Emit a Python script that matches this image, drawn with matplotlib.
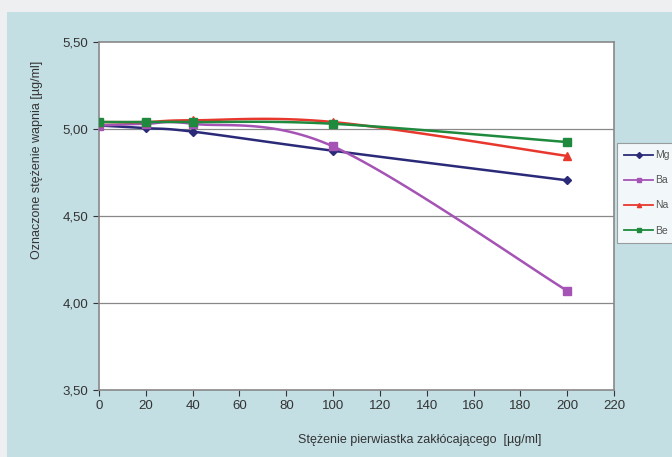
import numpy as np
import matplotlib.pyplot as plt
from matplotlib.patches import Rectangle

plt.rcParams['font.family'] = ['Liberation Sans', 'DejaVu Sans']

# data
conc = [0, 20, 40, 100, 200]
mg = [5.02, 5.005, 4.985, 4.875, 4.705]
ba = [5.02, 5.03, 5.03, 4.90, 4.07]
na = [5.04, 5.04, 5.05, 5.04, 4.845]
be = [5.04, 5.04, 5.04, 5.03, 4.925]
names = ['Mg', 'Ba', 'Na', 'Be']
colors = ['#2b2a78', '#a553b5', '#e8382e', '#1f8a3d']
markers = ['D', 's', '^', 's']
msizes = [4.5, 6, 6, 6]
yticks = [3.5, 4.0, 4.5, 5.0, 5.5]
xticks = list(range(0, 221, 20))


def smooth(x, y, n=30):
    # excel style smoothed line (catmull-rom bezier)
    x = np.asarray(x, float)
    y = np.asarray(y, float)
    px = np.concatenate([[x[0]], x, [x[-1]]])
    py = np.concatenate([[y[0]], y, [y[-1]]])
    xs, ys = [], []
    t = np.linspace(0, 1, n)
    for i in range(1, len(px) - 2):
        p0 = np.array([px[i], py[i]])
        p3 = np.array([px[i + 1], py[i + 1]])
        p1 = p0 + (np.array([px[i + 1], py[i + 1]]) - np.array([px[i - 1], py[i - 1]])) / 6
        p2 = p3 - (np.array([px[i + 2], py[i + 2]]) - np.array([px[i], py[i]])) / 6
        b = (((1 - t) ** 3)[:, None] * p0 + (3 * (1 - t) ** 2 * t)[:, None] * p1
             + (3 * (1 - t) * t ** 2)[:, None] * p2 + (t ** 3)[:, None] * p3)
        xs.extend(b[:, 0])
        ys.extend(b[:, 1])
    return xs, ys


fig = plt.figure(figsize=(6.72, 4.57), dpi=100, facecolor='#eeeff0')
fig.patches.append(Rectangle((7 / 672, 0), 1, 1 - 12 / 457, transform=fig.transFigure,
                             facecolor='#c3dfe4', edgecolor='none', zorder=-10))

ax = fig.add_axes([99 / 672, 1 - 390 / 457, 515 / 672, 348 / 457])
ax.set_facecolor('white')

for vals, nm, c, mk, ms in zip([mg, ba, na, be], names, colors, markers, msizes):
    sx, sy = smooth(conc, vals)
    ax.plot(sx, sy, color=c, lw=1.8, zorder=3)
    ax.plot(conc, vals, ls='none', marker=mk, ms=ms, color=c, zorder=4)
    ax.plot([], [], color=c, lw=1.3, marker=mk, ms=3, label=nm)

ax.set_xlim(0, 220)
ax.set_ylim(3.5, 5.5)
ax.set_xticks(xticks)
ax.set_yticks(yticks)
ax.set_yticklabels([f'{v:.2f}'.replace('.', ',') for v in yticks])
ax.tick_params(labelsize=9.5, colors='#333333', length=4, width=0.8)
for v in yticks[1:-1]:
    ax.axhline(v, color='#888888', lw=0.9, zorder=1)
for s in ax.spines.values():
    s.set_color('#888888')
    s.set_linewidth(1.2)

fig.text(420 / 672, 1 - 440 / 457, 'Stężenie pierwiastka zakłócającego  [µg/ml]',
         ha='center', va='center', fontsize=9, color='#333333')
fig.text(37 / 672, 1 - 160 / 457, 'Oznaczone stężenie wapnia [µg/ml]', rotation=90,
         ha='center', va='center', fontsize=9, color='#333333')

leg = ax.legend(loc='upper left', bbox_to_anchor=(617 / 672, 1 - 143 / 457),
                bbox_transform=fig.transFigure, fontsize=7.5, frameon=True,
                fancybox=False, handlelength=2.8, handletextpad=0.15,
                labelspacing=1.45, borderpad=0.7, borderaxespad=0)
leg.get_frame().set_edgecolor('#888888')
leg.get_frame().set_linewidth(0.8)
for t in leg.get_texts():
    t.set_color('#555555')

fig.savefig('out.png', dpi=100, facecolor=fig.get_facecolor())
